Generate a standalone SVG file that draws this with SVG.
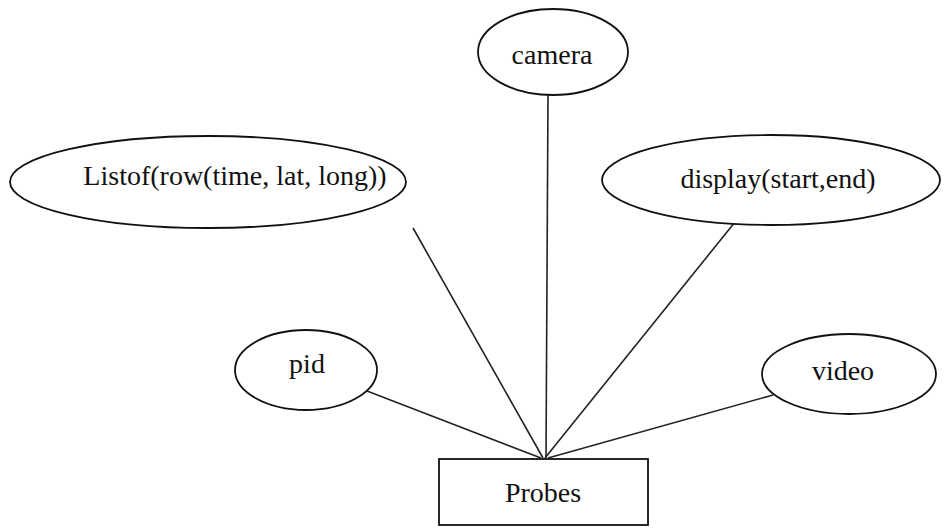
<svg xmlns="http://www.w3.org/2000/svg" width="945" height="531" viewBox="0 0 945 531">
<style>
.n{fill:#fff;stroke:#111;stroke-width:1.8}
.t{font-family:'Liberation Serif','Times New Roman','DejaVu Serif',serif;font-size:28px;fill:#111;text-anchor:middle}
.c line{stroke:#222;stroke-width:1.6}
</style>
<rect width="945" height="531" fill="#fff"/>
<g class="c" id="connectors">
<line x1="548" y1="95" x2="546" y2="458"/>
<line x1="413" y1="228" x2="543" y2="458"/>
<line x1="735" y1="222" x2="545" y2="458"/>
<line x1="367" y1="391" x2="541" y2="458"/>
<line x1="773" y1="395" x2="548" y2="458"/>
</g>
<g id="camera"><ellipse class="n" cx="553" cy="52" rx="75" ry="43"/><text class="t" x="552" y="64">camera</text></g>
<g id="listof"><ellipse class="n" cx="208" cy="182" rx="198" ry="46"/><text class="t" x="235" y="185">Listof(row(time, lat, long))</text></g>
<g id="display"><ellipse class="n" cx="771" cy="180" rx="169" ry="45"/><text class="t" x="778" y="188">display(start,end)</text></g>
<g id="pid"><ellipse class="n" cx="306" cy="370" rx="71" ry="40"/><text class="t" x="307" y="373">pid</text></g>
<g id="video"><ellipse class="n" cx="849" cy="374" rx="87" ry="40"/><text class="t" x="843" y="380">video</text></g>
<g id="probes"><rect class="n" x="439" y="459" width="209" height="66"/><text class="t" x="543" y="502">Probes</text></g>
</svg>
